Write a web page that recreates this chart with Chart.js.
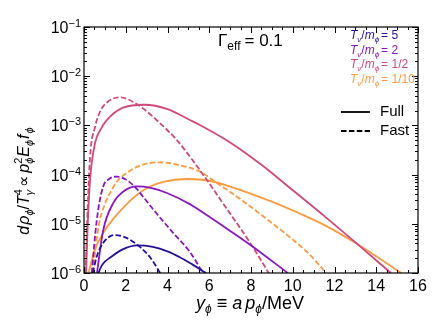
<!DOCTYPE html>
<html>
<head>
<meta charset="utf-8">
<script src="https://cdn.jsdelivr.net/npm/chart.js@4.4.1/dist/chart.umd.min.js"></script>
<style>
  html, body { margin: 0; padding: 0; background: #fff; }
  canvas { display: block; }
</style>
</head>
<body>
<canvas id="rhoChart" width="447" height="335"></canvas>
<script>
const xTicks = [0, 2, 4, 6, 8, 10, 12, 14, 16];
const yTickExp = [-6, -5, -4, -3, -2, -1];

// T_nu/m_phi = 5
const xFull5 = [0.69, 0.85, 1.0, 1.24, 1.8, 2.55, 3.3, 4.0, 4.59, 5.2, 5.85];
const yFull5 = [1e-6, 1.41e-6, 1.7e-6, 2.04e-6, 2.95e-6, 3.63e-6, 3.39e-6, 2.75e-6, 2.09e-6, 1.48e-6, 1e-6];
const xFast5 = [0.42, 0.6, 0.9, 1.45, 2.0, 2.68, 3.2, 3.65];
const yFast5 = [1e-6, 2.09e-6, 3.98e-6, 5.89e-6, 5.25e-6, 3.39e-6, 2.0e-6, 1e-6];

// T_nu/m_phi = 2
const xFull2 = [0.62, 0.92, 1.4, 1.9, 2.52, 3.2, 4.0, 5.07, 5.55, 6.5, 8.04, 9.76];
const yFull2 = [1e-6, 7.4e-6, 2.63e-5, 4.57e-5, 5.75e-5, 5.37e-5, 4.17e-5, 2.51e-5, 1.86e-5, 1e-5, 3.55e-6, 1e-6];
const xFast2 = [0.37, 0.61, 0.91, 1.2, 1.56, 2.0, 2.44, 2.83, 3.5, 4.3, 5.07, 5.7];
const yFast2 = [1e-6, 1.17e-5, 5.62e-5, 8.13e-5, 9.12e-5, 7.94e-5, 5.62e-5, 3.55e-5, 1.58e-5, 6.3e-6, 2.69e-6, 1e-6];

// T_nu/m_phi = 1/2
const xFullHalf = [0.1, 0.18, 0.29, 0.53, 0.8, 1.1, 1.87, 2.9, 4.0, 5.07, 5.55, 7.0, 8.5, 10.0, 11.5, 13.2, 14.7];
const yFullHalf = [1e-6, 1e-5, 7.8e-5, 4.4e-4, 8.3e-4, 1.29e-3, 2.29e-3, 2.63e-3, 2.14e-3, 1.29e-3, 1.02e-3, 4.5e-4, 1.58e-4, 4.8e-5, 1.45e-5, 3.55e-6, 1e-6];
const xFastHalf = [0.08, 0.15, 0.29, 0.53, 0.77, 1.2, 1.72, 2.58, 3.5, 4.45, 5.55, 6.8, 8.04, 8.85];
const yFastHalf = [1e-6, 1e-5, 2.29e-4, 9.3e-4, 1.91e-3, 3.16e-3, 3.72e-3, 2.63e-3, 1.26e-3, 5.0e-4, 1.23e-4, 2.14e-5, 3.63e-6, 1e-6];

// T_nu/m_phi = 1/10
const xFullTenth = [0.22, 0.5, 0.9, 1.4, 2.0, 2.8, 3.8, 5.0, 6.0, 7.0, 8.0, 9.0, 10.33, 11.5, 13.2, 15.2];
const yFullTenth = [1e-6, 2.82e-6, 6.3e-6, 1.26e-5, 2.4e-5, 4.68e-5, 7.08e-5, 8.13e-5, 7.5e-5, 5.7e-5, 4.07e-5, 2.82e-5, 1.62e-5, 9.5e-6, 3.63e-6, 1e-6];
const xFastTenth = [0.42, 0.7, 1.0, 1.32, 1.56, 2.2, 2.8, 3.54, 4.5, 5.55, 6.5, 7.5, 8.5, 9.5, 10.33, 10.8, 11.6];
const yFastTenth = [1e-6, 8.9e-6, 2.51e-5, 4.79e-5, 7.08e-5, 1.2e-4, 1.58e-4, 1.78e-4, 1.58e-4, 1.15e-4, 6.17e-5, 3.16e-5, 1.51e-5, 7.1e-6, 3.63e-6, 2.4e-6, 1e-6];

const ratioLabels = ["5", "2", "1/2", "1/10"];
const colors = ["#24119a", "#8a16bf", "#d1487a", "#fb9a40"];

const FONT = '"Liberation Sans", Arial, Helvetica, sans-serif';
const DASH = [5.5, 2.4];

const pts = (xs, ys) => xs.map((x, i) => ({ x, y: ys[i] }));

const series = [
  [xFull5, yFull5, 0, false], [xFast5, yFast5, 0, true],
  [xFull2, yFull2, 1, false], [xFast2, yFast2, 1, true],
  [xFullHalf, yFullHalf, 2, false], [xFastHalf, yFastHalf, 2, true],
  [xFullTenth, yFullTenth, 3, false], [xFastTenth, yFastTenth, 3, true],
];

// draw a run of text pieces (for sub/superscripts)
function richWidth(ctx, parts) {
  let w = 0;
  parts.forEach((p) => {
    ctx.font = `${p.i ? "italic " : ""}${p.s}px ${FONT}`;
    if (!p.noAdv) w += ctx.measureText(p.t).width + (p.gap || 0);
  });
  return w;
}
function drawRich(ctx, parts, x, y, color) {
  ctx.fillStyle = color;
  ctx.textBaseline = "alphabetic";
  ctx.textAlign = "left";
  let cx = x;
  parts.forEach((p) => {
    ctx.font = `${p.i ? "italic " : ""}${p.s}px ${FONT}`;
    ctx.fillText(p.t, cx, y + (p.dy || 0));
    if (!p.noAdv) cx += ctx.measureText(p.t).width + (p.gap || 0);
  });
}

const decorations = {
  id: "decorations",
  afterDatasetsDraw(chart) {
    const { ctx, chartArea: a, scales } = chart;
    const xs = scales.x, ys = scales.y;
    ctx.save();
    ctx.strokeStyle = "#000";
    ctx.lineWidth = 1;

    // inward ticks on all four sides
    ctx.beginPath();
    for (let v = 0; v <= 16.001; v += 0.5) {
      const px = Math.round(xs.getPixelForValue(v)) + 0.5;
      const len = Math.abs(v % 2) < 1e-6 ? 6 : 3;
      ctx.moveTo(px, a.bottom); ctx.lineTo(px, a.bottom - len);
      ctx.moveTo(px, a.top); ctx.lineTo(px, a.top + len);
    }
    for (let e = -6; e <= -1; e++) {
      for (let m = 1; m <= 9; m++) {
        if (e === -1 && m > 1) break;
        const py = Math.round(ys.getPixelForValue(m * Math.pow(10, e))) + 0.5;
        const len = m === 1 ? 6 : 3;
        ctx.moveTo(a.left, py); ctx.lineTo(a.left + len, py);
        ctx.moveTo(a.right, py); ctx.lineTo(a.right - len, py);
      }
    }
    ctx.stroke();

    ctx.lineWidth = 1.2;
    ctx.strokeRect(a.left, a.top, a.right - a.left, a.bottom - a.top);

    // x tick labels
    ctx.fillStyle = "#000";
    ctx.font = `16px ${FONT}`;
    ctx.textAlign = "center";
    ctx.textBaseline = "alphabetic";
    xTicks.forEach((v) => ctx.fillText(String(v), xs.getPixelForValue(v), a.bottom + 18));

    // y tick labels 10^e
    yTickExp.forEach((e) => {
      const py = ys.getPixelForValue(Math.pow(10, e));
      const parts = [{ t: "10", s: 16 }, { t: "\u2212" + -e, s: 11, dy: -6 }];
      const w = richWidth(ctx, parts);
      drawRich(ctx, parts, a.left - 3 - w, py + 6, "#000");
    });

    // axis titles
    const xl = [
      { t: "y", s: 18, i: true }, { t: "\u03d5", s: 12, i: true, dy: 4, gap: 5 },
      { t: "\u2261", s: 18, gap: 5 },
      { t: "a", s: 18, i: true, gap: 3 }, { t: "p", s: 18, i: true }, { t: "\u03d5", s: 12, i: true, dy: 4 },
      { t: "/MeV", s: 18 },
    ];
    const xw = richWidth(ctx, xl);
    drawRich(ctx, xl, 250 - xw / 2, 309, "#000");

    const yl = [
      { t: "d", s: 16, i: true, gap: 1 }, { t: "\u03c1", s: 16, i: true }, { t: "\u03d5", s: 11, i: true, dy: 4 },
      { t: "/", s: 16 }, { t: "T", s: 16, i: true }, { t: "4", s: 11, dy: -7, noAdv: true }, { t: "\u03b3", s: 11, i: true, dy: 4, gap: 3 },
      { t: "\u221d", s: 16, gap: 3 },
      { t: "p", s: 16, i: true }, { t: "2", s: 11, dy: -7, noAdv: true }, { t: "\u03d5", s: 11, i: true, dy: 4, gap: 1 },
      { t: "E", s: 16, i: true }, { t: "\u03d5", s: 11, i: true, dy: 4, gap: 1 },
      { t: "f", s: 16, i: true, gap: 1 }, { t: "\u03d5", s: 11, i: true, dy: 4 },
    ];
    const yw = richWidth(ctx, yl);
    ctx.save();
    ctx.translate(29, 181);
    ctx.rotate(-Math.PI / 2);
    drawRich(ctx, yl, -yw / 2, 0, "#000");
    ctx.restore();

    // Gamma_eff annotation
    drawRich(ctx, [{ t: "\u0393", s: 17 }, { t: "eff", s: 12, dy: 4, gap: 4 }, { t: "= 0.1", s: 17 }], 218, 46, "#000");

    // ratio labels
    ratioLabels.forEach((r, i) => {
      drawRich(ctx, [
        { t: "T", s: 12, i: true }, { t: "\u03bd", s: 8, i: true, dy: 3 },
        { t: "/", s: 12 }, { t: "m", s: 12, i: true }, { t: "\u03d5", s: 8, i: true, dy: 3, gap: 2 },
        { t: "= " + r, s: 12 },
      ], 350, 39 + 14.7 * i, colors[i]);
    });

    // line-style key
    ctx.strokeStyle = "#000";
    ctx.lineWidth = 1.8;
    ctx.beginPath(); ctx.moveTo(341, 112); ctx.lineTo(370, 112); ctx.stroke();
    ctx.setLineDash(DASH);
    ctx.beginPath(); ctx.moveTo(341, 131); ctx.lineTo(370, 131); ctx.stroke();
    ctx.setLineDash([]);
    ctx.fillStyle = "#000";
    ctx.font = `15px ${FONT}`;
    ctx.textAlign = "left";
    ctx.textBaseline = "middle";
    ctx.fillText("Full", 380, 112);
    ctx.fillText("Fast", 380, 131);
    ctx.restore();
  },
};

new Chart(document.getElementById("rhoChart"), {
  type: "scatter",
  data: {
    datasets: series.map(([xs, ys, c, dashed]) => ({
      data: pts(xs, ys),
      showLine: true,
      borderColor: colors[c],
      borderWidth: 1.8,
      borderDash: dashed ? DASH : [],
      pointRadius: 0,
      cubicInterpolationMode: "monotone",
      fill: false,
    })),
  },
  options: {
    responsive: false,
    animation: false,
    layout: { padding: { left: 84, right: 29, top: 27, bottom: 62 } },
    plugins: { legend: { display: false }, tooltip: { enabled: false } },
    scales: {
      x: { type: "linear", min: 0, max: 16, display: false },
      y: { type: "logarithmic", min: 1e-6, max: 1e-1, display: false },
    },
  },
  plugins: [decorations],
});
</script>
</body>
</html>
